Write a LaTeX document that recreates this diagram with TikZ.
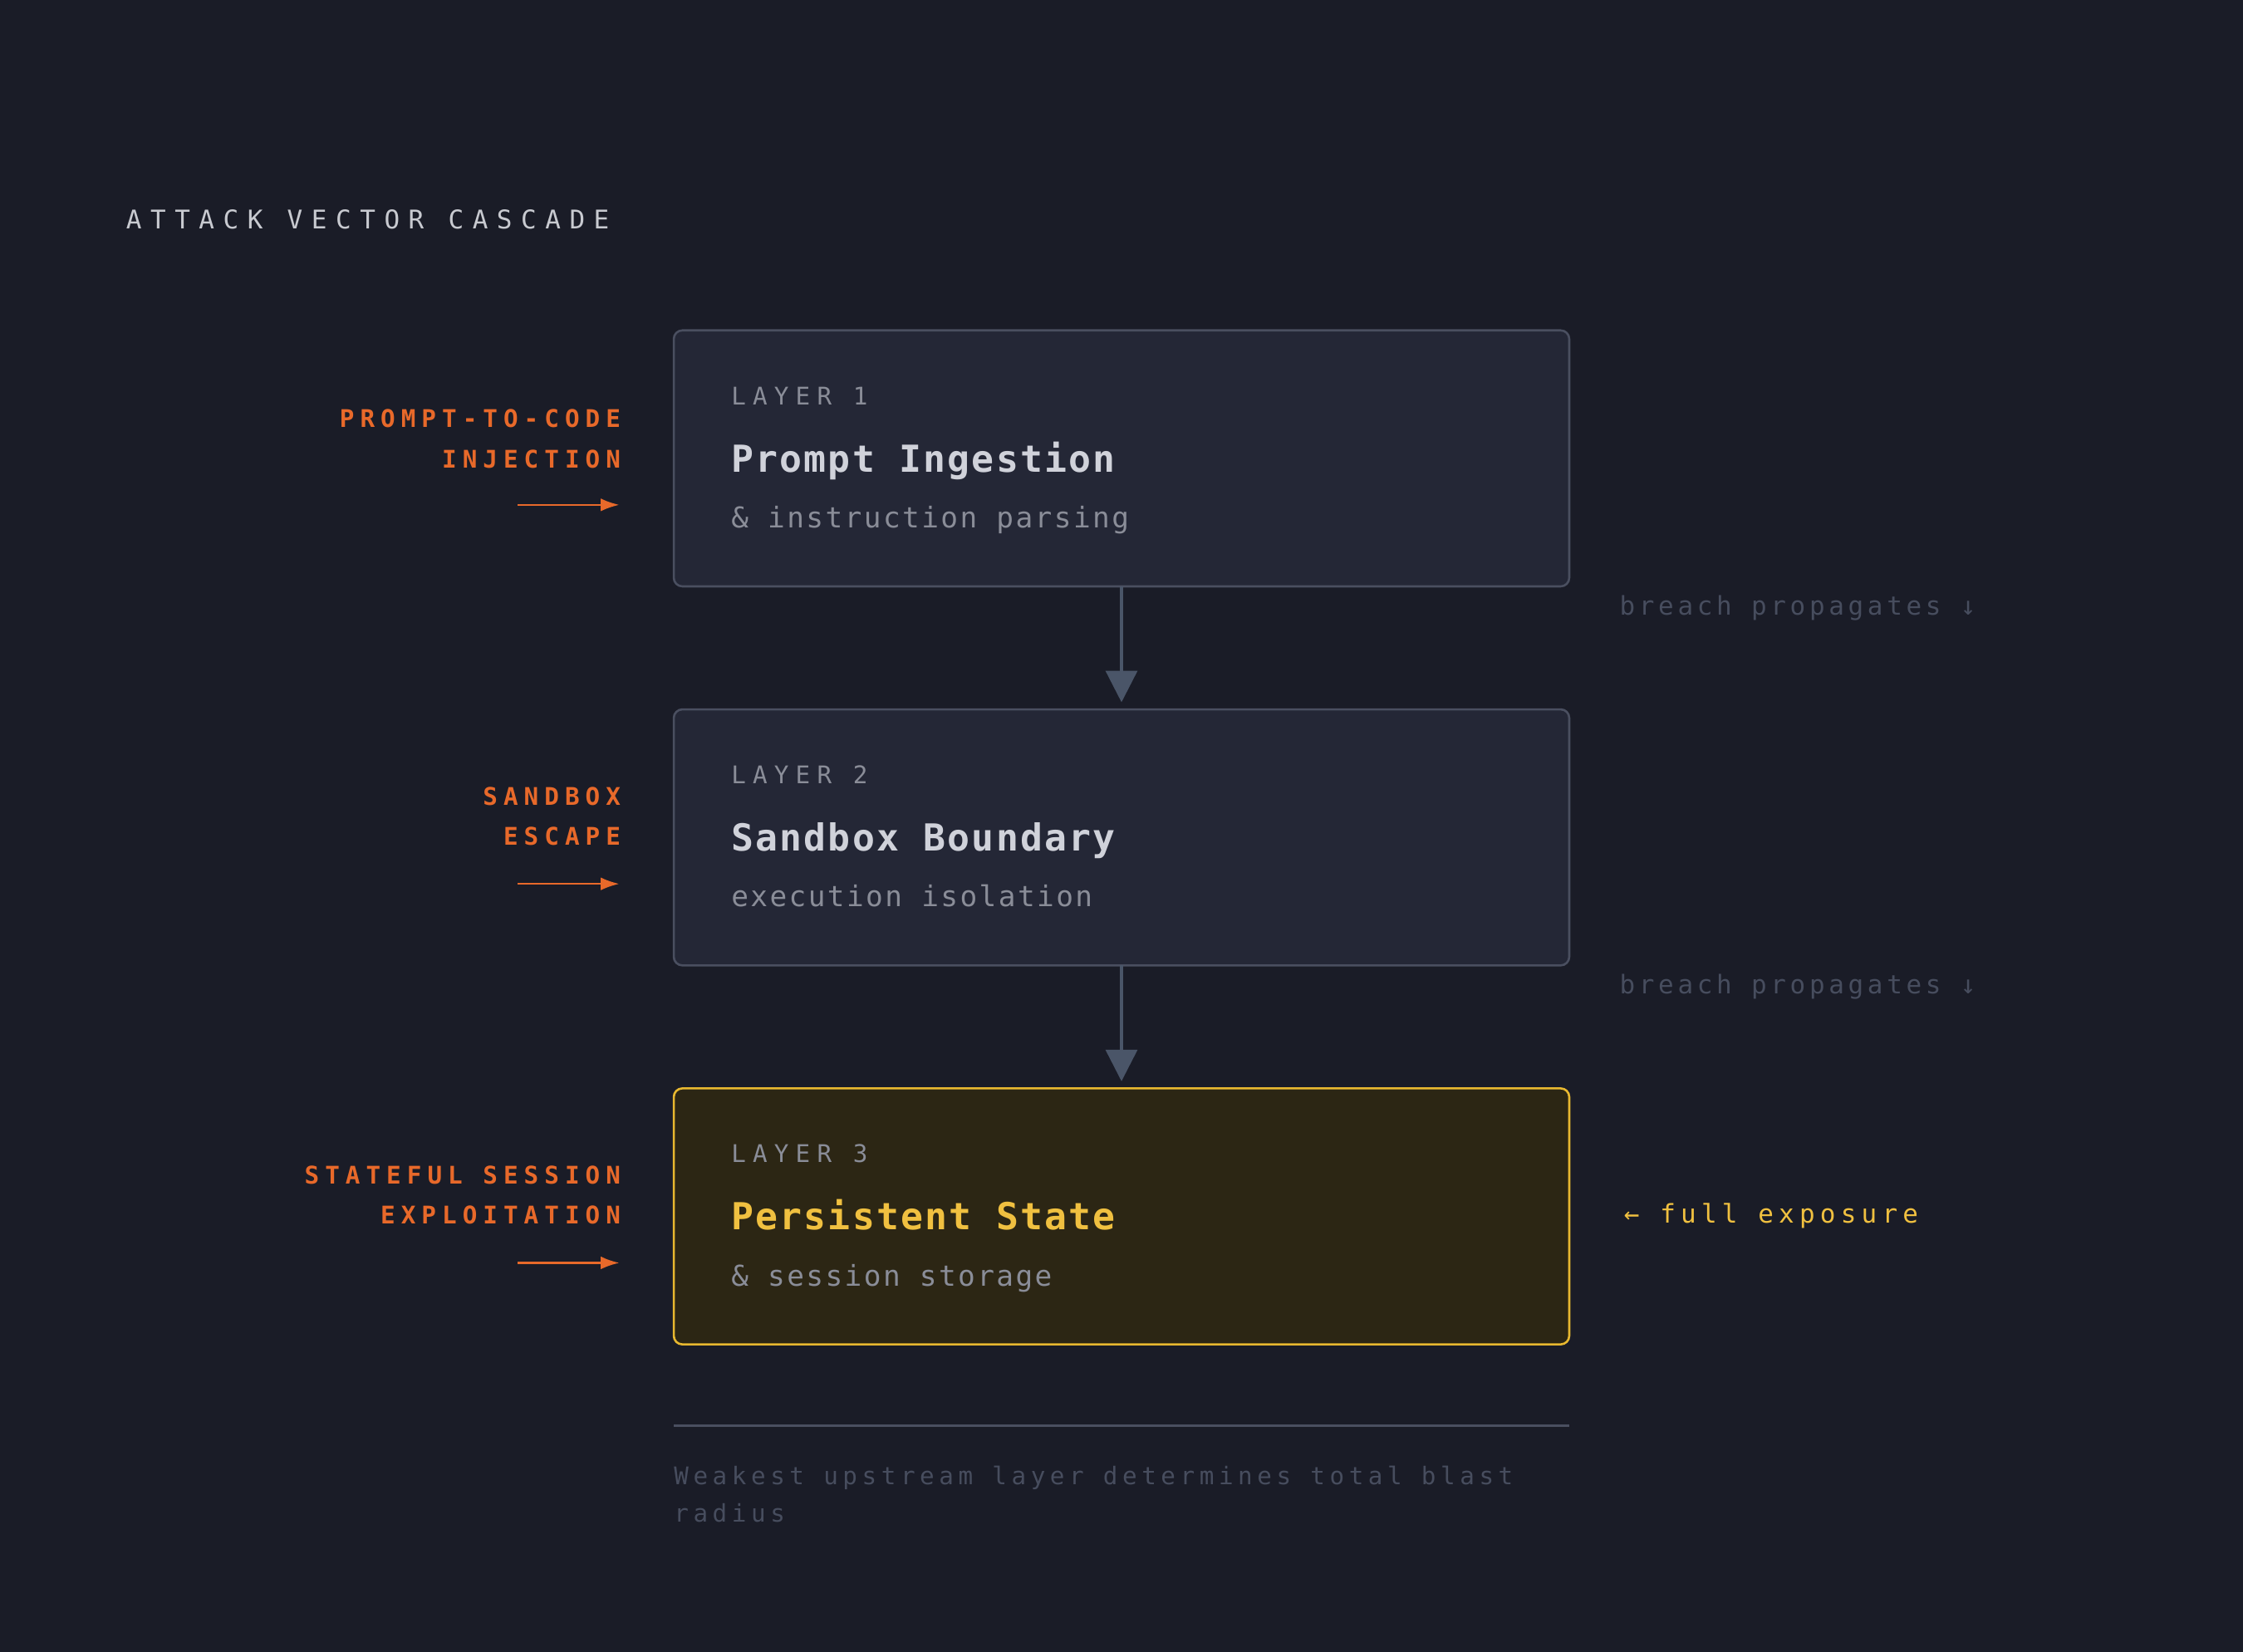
\documentclass[tikz,border=0pt]{standalone}
\usepackage{fontspec}
\setmonofont{DejaVu Sans Mono}
\usetikzlibrary{arrows.meta}
\definecolor{bg}{HTML}{1A1C27}
\definecolor{boxfill}{HTML}{242736}
\definecolor{boxline}{HTML}{4A4F60}
\definecolor{hotfill}{HTML}{2C2614}
\definecolor{hotline}{HTML}{E8B830}
\definecolor{orange}{HTML}{E8692A}
\definecolor{titlec}{HTML}{C8CAD0}
\definecolor{dimc}{HTML}{8A8D98}
\definecolor{headc}{HTML}{D0D2DA}
\definecolor{faint}{HTML}{474D5E}
\definecolor{yel}{HTML}{F0C040}
\definecolor{conn}{HTML}{4A5568}
\newfontfamily\trackA[LetterSpace=34]{DejaVu Sans Mono}
\newfontfamily\trackB[LetterSpace=28]{DejaVu Sans Mono}
\newfontfamily\trackC[LetterSpace=24]{DejaVu Sans Mono Bold}
\newfontfamily\trackD[LetterSpace=15]{DejaVu Sans Mono}
\newfontfamily\trackG[LetterSpace=20]{DejaVu Sans Mono}
\newfontfamily\trackH[LetterSpace=19]{DejaVu Sans Mono}
\newfontfamily\trackE[LetterSpace=5]{DejaVu Sans Mono Bold}
\newfontfamily\trackF[LetterSpace=7]{DejaVu Sans Mono}
\begin{document}
\begin{tikzpicture}[x=1pt,y=-1pt,
  box/.style={draw=boxline,fill=boxfill,line width=1.5pt,rounded corners=6pt},
  hot/.style={draw=hotline,fill=hotfill,line width=1.5pt,rounded corners=6pt},
  txt/.style={inner sep=0pt,anchor=base west},
  lbl/.style={inner sep=0pt,anchor=base east,text=orange,font=\trackC\fontsize{17}{20}\selectfont},
  layer/.style={txt,text=dimc,font=\trackB\fontsize{17}{20}\selectfont},
  head/.style={txt,text=headc,font=\trackE\fontsize{26}{30}\selectfont},
  sub/.style={txt,text=dimc,font=\trackF\fontsize{20}{24}\selectfont},
  side/.style={txt,font=\trackD\fontsize{18}{22}\selectfont},
  foot/.style={txt,text=faint,font=\trackH\fontsize{17}{21}\selectfont},
  inarrow/.style={draw=orange,line width=1.5pt,-{Latex[length=13pt,width=9pt]}},
  flow/.style={draw=conn,line width=2pt,-{Triangle[length=22pt,width=22pt]}}]
\fill[bg] (0,0) rectangle (1568,1155);
\node[txt,text=titlec,font=\trackA\fontsize{18}{22}\selectfont] (title) at (88,160) {ATTACK VECTOR CASCADE};

\draw[box] (471,231) rectangle (1097,410);
\draw[box] (471,496) rectangle (1097,675);
\draw[hot] (471,761) rectangle (1097,940);
\coordinate (b1s) at (784,410); \coordinate (b2n) at (784,491);
\coordinate (b2s) at (784,675); \coordinate (b3n) at (784,756);

\foreach \y/\n/\a/\b in {0/1/Prompt Ingestion/\& instruction parsing,265/2/Sandbox Boundary/execution isolation}{
  \node[layer] (l\n) at (511,283+\y) {LAYER \n};
  \node[head] (h\n) at (511,330+\y) {\a};
  \node[sub] (s\n) at (511,369+\y) {\b};
}
\node[layer] (l3) at (511,813) {LAYER 3};
\node[head,text=yel] (h3) at (511,860) {Persistent State};
\node[sub] (s3) at (511,899) {\& session storage};

\draw[flow] (b1s) -- (b2n);
\draw[flow] (b2s) -- (b3n);

\node[lbl] (o1a) at (434,299) {PROMPT-TO-CODE};
\node[lbl] (o1b) at (434,327) {INJECTION};
\node[lbl] (o2a) at (434,563) {SANDBOX};
\node[lbl] (o2b) at (434,591) {ESCAPE};
\node[lbl] (o3a) at (434,828) {STATEFUL SESSION};
\node[lbl] (o3b) at (434,856) {EXPLOITATION};
\foreach \y/\n in {353/1,618/2,883/3}{
  \coordinate (as\n) at (362,\y); \coordinate (ae\n) at (433,\y);
  \draw[inarrow] (as\n) -- (ae\n);
}

\node[side,text=faint] (bp1) at (1132,430) {breach propagates ↓};
\node[side,text=faint] (bp2) at (1132,695) {breach propagates ↓};
\node[side,text=yel,font=\trackG\fontsize{18}{22}\selectfont] (fe) at (1135,855) {← full exposure};

\coordinate (r1) at (471,997); \coordinate (r2) at (1097,997);
\draw[boxline,line width=1.5pt] (r1) -- (r2);
\node[foot] (foot1) at (471,1038) {Weakest upstream layer determines total blast};
\node[foot] (foot2) at (471,1064) {radius};
\end{tikzpicture}
\end{document}
